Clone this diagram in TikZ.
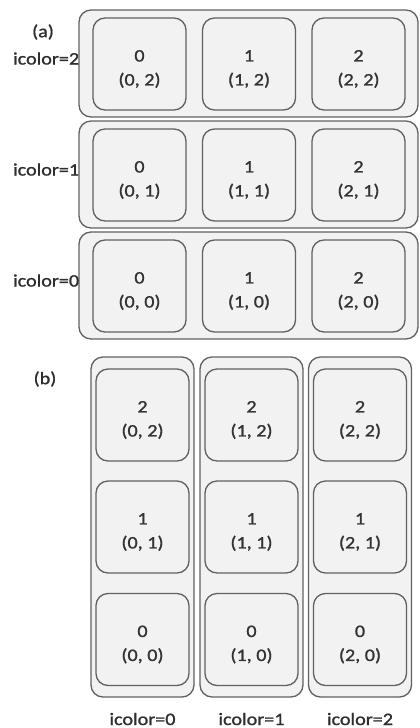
\documentclass[tikz,border=0pt]{standalone}
\usepackage{fontspec}
\setmainfont{Carlito}[FakeStretch=1.15,FakeBold=1.2]
\begin{document}
\begin{tikzpicture}[x=1pt,y=-1pt,
  boxline/.style={draw=black!62, line width=1.3pt, fill=black!5, rounded corners=12pt},
  outerbox/.style={boxline, inner sep=0pt},
  cellbox/.style={boxline, minimum width=93pt, minimum height=92pt, inner sep=0pt},
  celltext/.style={align=center, inner sep=0pt, font=\fontsize{17.5}{24}\selectfont, text=black!80},
  tag/.style={font=\fontsize{17.5}{20}\selectfont, text=black!82, inner sep=0pt}]
\useasboundingbox (0,0) rectangle (420,728);

% (a) one row of three threads per colour
\node[tag] (la) at (43,32) {(a)};
\foreach \r/\c in {0/2,1/1,2/0} {
  \pgfmathsetmacro{\top}{10+111*\r}
  \node[outerbox, minimum width=339pt, minimum height=107pt]
    (arow\c) at (248.5,\top+53.5) {};
  \foreach \i/\x in {0/139.5,1/249,2/358.5} {
    \node[cellbox] (a\i\c) at (\x,\top+54) {};
    \node[celltext] (a\i\c t) at ([yshift=-5pt]a\i\c.center) {\i\\(\i, \c)};
  }
  \node[tag, anchor=east] (ac\c) at ([xshift=1pt,yshift=5pt]arow\c.west) {icolor=\c};
}

% (b) one column of three threads per colour
\node[tag] (lb) at (45,379) {(b)};
\foreach \i/\x in {0/142.5,1/251.5,2/360} {
  \node[outerbox, minimum width=103pt, minimum height=340pt]
    (bcol\i) at (\x,527) {};
  \foreach \j/\y in {2/415,1/527,0/639.5} {
    \node[cellbox] (b\i\j) at (\x,\y) {};
    \node[celltext] (b\i\j t) at ([yshift=-5pt]b\i\j.center) {\j\\(\i, \j)};
  }
  \node[tag] (bc\i) at (\x,719) {icolor=\i};
}
\end{tikzpicture}
\end{document}
